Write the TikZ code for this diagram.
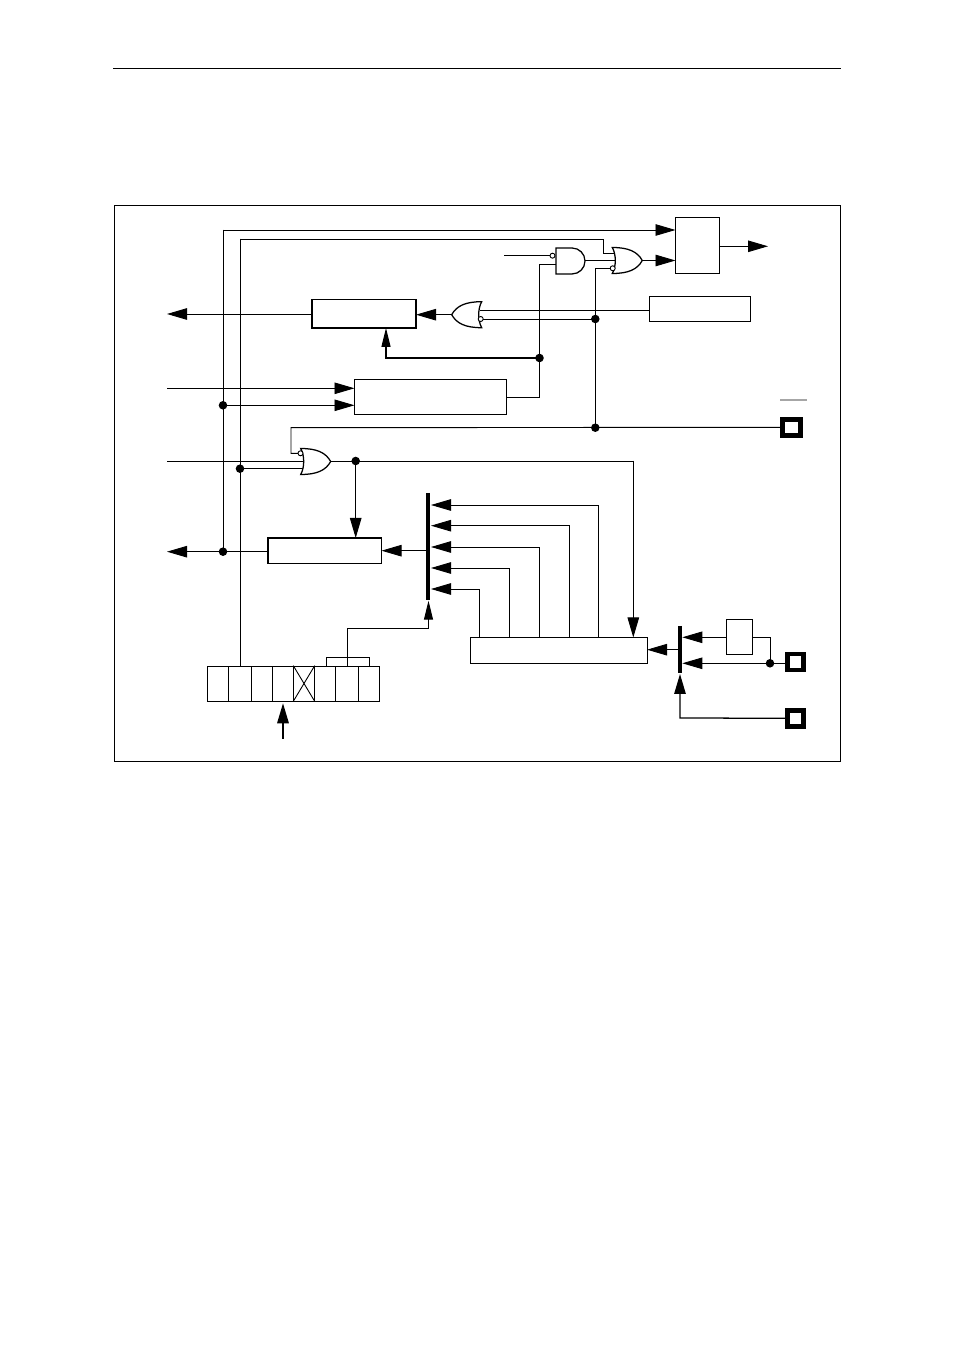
\documentclass[tikz,border=0pt]{standalone}
\usepackage{tkz-euclide}
\usetikzlibrary{arrows.meta,calc}
\tikzset{
  wire/.style={line width=.26pt,line cap=rect},
  heavy/.style={line width=.36pt},
  tipA/.style={-{Triangle[length=.2cm,width=.115cm]}},
  tipB/.style={-{Triangle[length=.19cm,width=.09cm]}},
  blk/.style={draw,fill=white,line width=.26pt,inner sep=0pt,outer sep=0pt},
  pad/.style={draw,fill=white,line width=1.3pt,inner sep=0pt,outer sep=0pt,minimum size=.16cm},
  bubble/.style={draw,circle,fill=white,line width=.26pt,inner sep=0pt,minimum size=.05cm},
  bar/.style={line width=1.2pt},
  gate/.style={draw,fill=white,line width=.36pt},
  orgate/.pic={\path[gate] (0,.13) .. controls (.04,.06) and (.04,-.06) .. (0,-.13)
    .. controls (.16,-.13) and (.25,-.09) .. (.30,0) .. controls (.25,.09) and (.16,.13) .. (0,.13) -- cycle;},
  andgate/.pic={\path[gate] (0,.13) -- (.16,.13) arc[start angle=90,end angle=-90,radius=.13] -- (0,-.13) -- cycle;}
}

\begin{document}
\begin{tikzpicture}
\useasboundingbox (0,0) rectangle (9.54,13.5);
\tkzSetUpPoint[fill=black,color=black]

\tkzDefPoints{1.13/12.815/RuleL,8.41/12.815/RuleR,1.14/11.45/FrameA,8.40/5.885/FrameB}
\tkzDefPoints{2.23/11.2/Va,2.23/9.447/Vb,2.23/7.983/Vc,2.40/11.11/Wa,2.40/8.813/Wb}
\tkzDefPoints{6.03/11.11/Wc,6.03/10.97/Wd,6.16/10.97/We,3.04/8.813/Wf}
\tkzDefPoints{5.04/10.943/Ea,5.395/10.853/Eb,5.60/10.853/Ec,5.395/9.523/Ed,5.395/9.92/Ee,3.86/9.92/Ef}
\tkzDefPoints{5.953/10.817/Fa,5.953/10.31/Fb,5.953/9.223/Fc,4.80/10.40/Fd,4.81/10.31/Fe}
\tkzDefPoints{2.91/9.223/Ga,2.91/8.967/Gb,1.67/8.89/Gc,3.04/8.89/Gd,3.557/8.89/Ge,6.333/8.89/Gf}
\tkzDefPoints{1.67/9.617/La,1.67/10.36/Lb,1.67/7.983/Lc}
\tkzDefPoints{4.282/8.57/BarAt,4.282/7.5/BarAb,6.80/7.24/BarBt,6.80/6.773/BarBb}
\tkzDefPoints{4.31/8.45/Ta,4.31/8.243/Tb,4.31/8.03/Tc,4.31/7.82/Td,4.31/7.61/Te}
\tkzDefPoints{5.983/8.45/Ua,5.697/8.243/Ub,5.397/8.03/Uc,5.093/7.82/Ud,4.797/7.61/Ue}
\tkzDefPoints{4.26/7.993/Ma,6.78/7.003/Mb,3.26/6.925/Ka,3.697/6.925/Kb,3.473/7.22/Kc,4.285/7.22/Kd,4.285/7.493/Ke}
\tkzDefPoints{2.83/6.11/Ra,2.83/6.467/Rb,7.70/6.867/Sa,7.70/7.127/Sb,6.823/7.127/Sc,6.823/6.867/Sd,6.80/6.32/Sf,6.80/6.76/Sg}
\tkzDefPoints{7.80/9.503/Ova,8.067/9.503/Ovb}

\draw[line width=.25pt] (RuleL) -- (RuleR);
\draw[line width=.25pt] (FrameA) rectangle (FrameB);

% blocks
\node[blk,minimum width=.435cm,minimum height=.56cm] (flop) at (6.9725,11.045) {};
\node[blk,minimum width=1.005cm,minimum height=.25cm] (latch) at (6.9975,10.41) {};
\node[blk,line width=.45pt,minimum width=1.04cm,minimum height=.285cm] (drvA) at (3.64,10.3625) {};
\node[blk,minimum width=1.515cm,minimum height=.35cm] (cmp) at (4.3025,9.53) {};
\node[blk,line width=.4pt,minimum width=1.135cm,minimum height=.255cm] (drvB) at (3.2475,7.9925) {};
\node[blk,minimum width=1.765cm,minimum height=.255cm] (scale) at (5.5875,6.9975) {};
\node[blk,minimum width=.26cm,minimum height=.355cm] (sync) at (7.395,7.1325) {};
\foreach \n/\x/\w in {1/2.18/.21,2/2.40/.23,3/2.62/.21,4/2.83/.21,5/3.04/.21,6/3.25/.21,7/3.47/.23,8/3.69/.21}
  \node[blk,minimum width=\w cm,minimum height=.35cm] (cell\n) at (\x,6.665) {};
\draw[wire] (cell5.north west) -- (cell5.south east) (cell5.south west) -- (cell5.north east);
\node[pad,minimum width=.18cm] (padA) at (7.915,9.227) {};
\node[pad] (padB) at (7.955,6.88) {};
\node[pad] (padC) at (7.955,6.317) {};

% long wires
\draw[wire,tipA] (Va) -- (Va -| flop.west);
\draw[wire] (Va) -- (Vc);
\draw[wire] (Wa) -- (cell2.north);
\draw[wire] (Wa) -- (Wc) -- (Wd) -- (We);
\draw[wire,tipA] (Vb) -- (Vb -| cmp.west);
\draw[wire,tipA] (La) -- (La -| cmp.west);
\draw[wire,tipA] (drvA.west |- Lb) -- (Lb);
\draw[wire,tipA] (drvB.west |- Lc) -- (Lc);
\draw[wire] (Ea) -- (5.52,10.943);
\draw[wire] (Ec) -- (Eb) -- (Ed) -- (Ed -| cmp.east);
\draw[heavy,tipB] (Ee) -- (Ef) -- (Ef |- drvA.south);
\draw[wire] (Fa) -- (Fc);
\draw[wire] (Fa) -- (6.13,10.817);
\draw[wire] (Fe) -- (Fb);
\draw[wire] (Fd) -- (Fd -| latch.west);
\draw[wire] (padA.west) -- (Ga) -- (Gb) -- (3.01,8.967);
\draw[wire] (Gc) -- (Gd);
\draw[wire] (Wb) -- (Wf);
\draw[wire] (3.30,8.89) -- (Gf);
\draw[wire,tipA] (Ge) -- (Ge |- drvB.north);
\draw[wire,tipA] (Gf) -- (Gf |- scale.north);
\draw[wire] (5.85,10.895) -- (6.16,10.895);
\draw[wire,tipA] (6.42,10.895) -- (6.42,10.895 -| flop.west);
\draw[wire,tipA] (flop.east |- 0,11.037) -- (7.68,11.037);
\draw[wire,tipA] (4.52,10.353) -- (4.52,10.353 -| drvA.east);
\foreach \t/\u in {Ta/Ua,Tb/Ub,Tc/Uc,Td/Ud,Te/Ue}
  \draw[wire,tipA] (\u |- scale.north) -- (\u) -- (\t);
\draw[wire,tipA] (Ma) -- (Ma -| drvB.east);
\draw[wire,tipA] (Mb) -- (Mb -| scale.east);
\draw[wire] (cell7.north) -- (cell7.north |- Kc) -- (Kd);
\draw[wire,tipB] (Kd) -- (Ke);
\draw[wire] (Ka |- cell6.north) -- (Ka) -- (Kb) -- (Kb |- cell8.north);
\draw[line width=.45pt,tipA] (Ra) -- (Rb);
\draw[wire,tipA] (sync.west |- Sc) -- (Sc);
\draw[wire,tipA] (padB.west |- Sd) -- (Sd);
\draw[wire] (Sa) -- (Sb) -- (sync.east |- Sb);
\draw[heavy,tipA] (padC.west) -- (Sf) -- (Sg);
\draw[line width=.55pt,black!35] (Ova) -- (Ovb);

% bars
\draw[bar] (BarAt) -- (BarAb);
\draw[bar] (BarBt) -- (BarBb);

% gates
\pic at (6.123,10.895) {orgate};
\pic at (3.007,8.885) {orgate};
\pic[xscale=-1] at (4.817,10.353) {orgate};
\pic at (5.56,10.89) {andgate};

\node[bubble] (bubA) at (5.525,10.943) {};
\node[bubble] (bubB) at (6.127,10.817) {};
\node[bubble] (bubC) at (4.807,10.31) {};
\node[bubble] (bubD) at (3.005,8.967) {};

\tkzDrawPoints[size=2](Vb,Vc,Wb,Ee,Fb,Fc,Ge,Sa)
\end{tikzpicture}
\end{document}
